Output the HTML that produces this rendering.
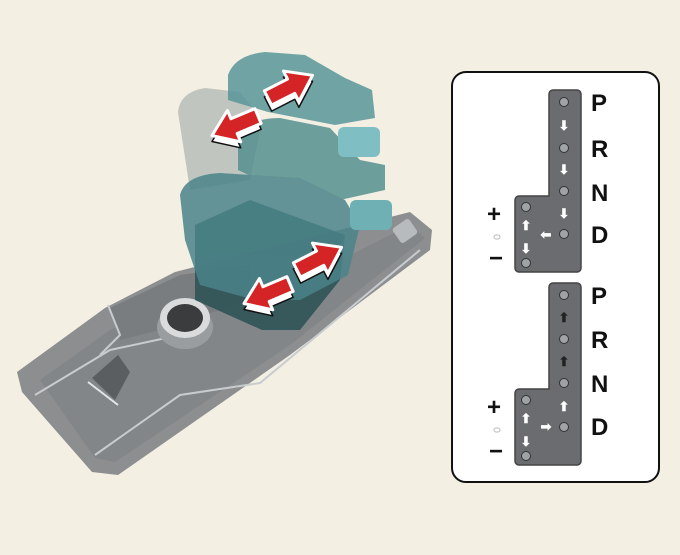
<!DOCTYPE html>
<html><head><style>
html,body{margin:0;padding:0;background:#f3efe3;}
svg{display:block}
text{font-family:"Liberation Sans",sans-serif;font-weight:bold;}
</style></head><body>
<svg width="680" height="555" viewBox="0 0 680 555" xmlns="http://www.w3.org/2000/svg">
<defs>
<polygon id="sh" points="0,-8 26,-8 26,-17 50,0 26,17 26,8 0,8" fill="#fff" stroke="#111" stroke-width="1.5" stroke-linejoin="round"/>
<polygon id="ar" points="0,-8 26,-8 26,-17 50,0 26,17 26,8 0,8" fill="#d42426" stroke="#fff" stroke-width="3" stroke-linejoin="round"/>
</defs>
<rect width="680" height="555" fill="#f3efe3"/>
<!-- console base -->
<polygon points="17,372 105,308 175,272 410,212 432,230 430,250 290,355 118,475 92,472 22,392" fill="#8c8e90"/>
<polygon points="40,380 110,330 175,300 300,280 410,225 425,238 290,345 115,462 95,458" fill="#838689"/>
<polygon points="110,308 180,275 250,265 250,300 160,330 120,340" fill="#7a7d80"/>
<polyline points="35,395 110,350 180,335" stroke="#c9ccce" stroke-width="2" fill="none"/>
<polyline points="95,455 180,395 260,383 420,250" stroke="#c9ccce" stroke-width="2" fill="none"/>
<polyline points="108,305 120,335 100,355" stroke="#c9ccce" stroke-width="2" fill="none"/>
<line x1="88" y1="382" x2="118" y2="405" stroke="#e2e4e5" stroke-width="2"/>
<polygon points="92,378 118,355 130,372 115,400" fill="#5b5e61"/>
<!-- cup/dial -->
<ellipse cx="185" cy="327" rx="28" ry="22" fill="#9a9da0"/>
<ellipse cx="185" cy="318" rx="25" ry="20" fill="#d9dbdc"/>
<ellipse cx="185" cy="318" rx="18" ry="14" fill="#3a3c3e"/>
<rect x="395" y="222" width="20" height="18" rx="3" fill="#b8bbbd" transform="rotate(-35 405 231)"/>
<!-- knobs -->
<path d="M178,112 Q180,92 205,88 L240,92 L262,120 L250,180 L190,190 Z" fill="#a9b4b0" opacity="0.7"/>
<path d="M195,225 L250,200 L345,235 L340,280 L300,330 L262,330 L195,300 Z" fill="#2f5457" opacity="0.9"/>
<g opacity="0.85">
<path d="M228,75 Q235,55 265,52 L305,55 L345,78 L372,90 L375,118 L335,125 L268,112 L228,100 Z" fill="#5a969a"/>
<path d="M238,140 Q245,118 280,118 L330,128 L360,160 L385,165 L385,190 L340,200 L270,185 L238,170 Z" fill="#55908f"/>
<path d="M180,195 Q185,175 220,173 L300,178 L345,200 L360,225 L348,275 L300,300 L255,300 L200,285 L185,240 Z" fill="#4a8489"/>
</g>
<rect x="338" y="127" width="42" height="30" rx="6" fill="#7fbfc3"/>
<rect x="350" y="200" width="42" height="30" rx="6" fill="#6fb0b5"/>
<!-- red arrows -->
<use href="#sh" transform="translate(268,104) rotate(-27)"/>
<use href="#ar" transform="translate(268,98) rotate(-27)"/>
<use href="#sh" transform="translate(258,122) rotate(157)"/>
<use href="#ar" transform="translate(258,116) rotate(157)"/>
<use href="#sh" transform="translate(297,276) rotate(-27)"/>
<use href="#ar" transform="translate(297,270) rotate(-27)"/>
<use href="#sh" transform="translate(290,290) rotate(157)"/>
<use href="#ar" transform="translate(290,284) rotate(157)"/>
<!-- panel -->
<rect x="452" y="72" width="207" height="410" rx="14" fill="#fff" stroke="#111" stroke-width="2"/>
<g fill="#6a6c70" stroke="#444" stroke-width="1.5">
<path d="M553,90 h24 a4,4 0 0 1 4,4 v174 a4,4 0 0 1 -4,4 h-58 a4,4 0 0 1 -4,-4 v-68 a4,4 0 0 1 4,-4 h30 V94 a4,4 0 0 1 4,-4 z"/>
<path d="M553,283 h24 a4,4 0 0 1 4,4 v174 a4,4 0 0 1 -4,4 h-58 a4,4 0 0 1 -4,-4 v-68 a4,4 0 0 1 4,-4 h30 V287 a4,4 0 0 1 4,-4 z"/>
</g>
<g fill="#9fa3a6" stroke="#333" stroke-width="1">
<circle cx="564" cy="102" r="4.5"/><circle cx="564" cy="148" r="4.5"/><circle cx="564" cy="191" r="4.5"/><circle cx="564" cy="234" r="4.5"/>
<circle cx="526" cy="207" r="4.5"/><circle cx="526" cy="263" r="4.5"/>
<circle cx="564" cy="295" r="4.5"/><circle cx="564" cy="339" r="4.5"/><circle cx="564" cy="383" r="4.5"/><circle cx="564" cy="427" r="4.5"/>
<circle cx="526" cy="400" r="4.5"/><circle cx="526" cy="456" r="4.5"/>
</g>
<g fill="#fff" font-size="13" text-anchor="middle" font-family="DejaVu Sans">
<text x="564" y="130">⬇</text><text x="564" y="174">⬇</text><text x="564" y="218">⬇</text>
<text x="526" y="230">⬆</text><text x="526" y="253">⬇</text><text x="546" y="239">⬅</text>
<text x="564" y="322" fill="#222">⬆</text><text x="564" y="366" fill="#222">⬆</text><text x="564" y="411">⬆</text>
<text x="526" y="423">⬆</text><text x="526" y="446">⬇</text><text x="546" y="431">➡</text>
</g>
<g font-size="24" fill="#111">
<text x="591" y="111">P</text><text x="591" y="157">R</text><text x="591" y="201">N</text><text x="591" y="243">D</text>
<text x="591" y="304">P</text><text x="591" y="348">R</text><text x="591" y="392">N</text><text x="591" y="435">D</text>
<text x="487" y="222">+</text><text x="489" y="266">−</text>
<text x="487" y="415">+</text><text x="489" y="459">−</text>
</g>
<rect x="494" y="235" width="6" height="4" rx="2" fill="none" stroke="#bbb"/>
<rect x="494" y="428" width="6" height="4" rx="2" fill="none" stroke="#bbb"/>
</svg>
</body></html>
